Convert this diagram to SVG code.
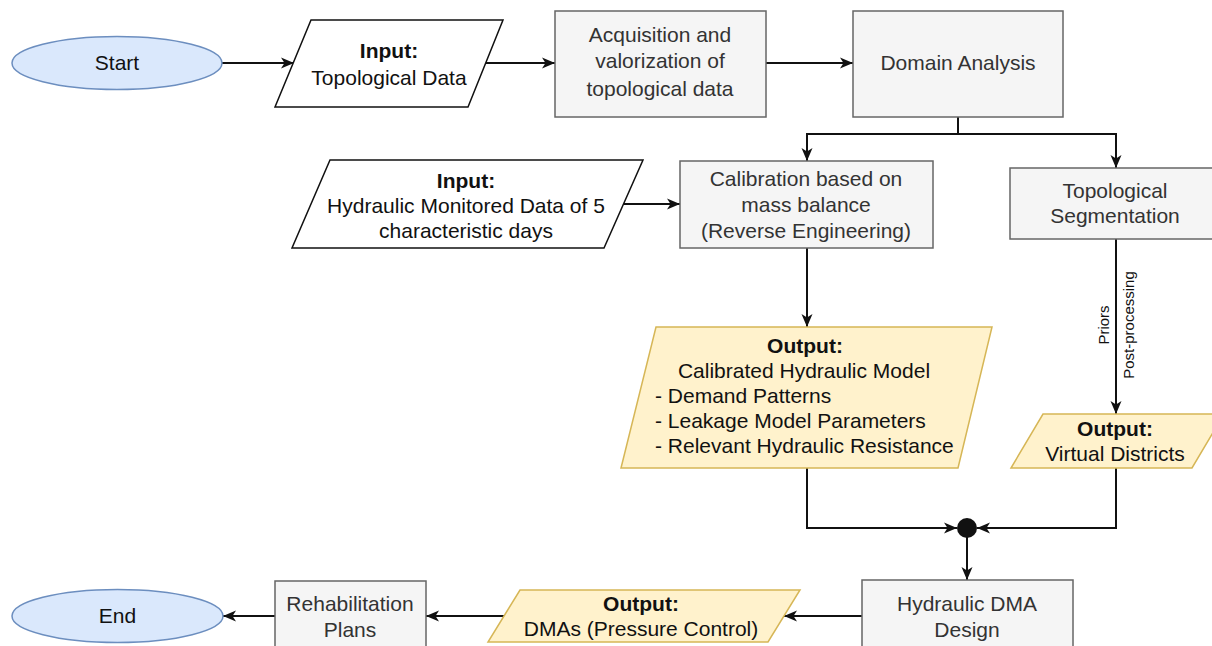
<svg xmlns="http://www.w3.org/2000/svg" width="1212" height="646" viewBox="0 0 1212 646">
<defs>
<marker id="arr" markerUnits="userSpaceOnUse" markerWidth="14" markerHeight="12" refX="13" refY="6" orient="auto">
<path d="M0,0.5 L13,6 L0,11.5 L3.5,6 Z" fill="#111"/>
</marker>
</defs>
<style>
text{font-family:"Liberation Sans",Arial,Helvetica,sans-serif;font-size:21px;text-anchor:middle}
.b{font-weight:bold;fill:#111}
.d{fill:#111}
.g{fill:#333}
.l{text-anchor:start}
.term{fill:#dae8fc;stroke:#6c8ebf;stroke-width:1.5}
.box{fill:#f5f5f5;stroke:#666;stroke-width:1.5}
.inp{fill:#fff;stroke:#111;stroke-width:1.5}
.out{fill:#fff2cc;stroke:#d6b656;stroke-width:1.5}
.c{fill:none;stroke:#111;stroke-width:2}
.lbl{font-size:15px;fill:#111}
</style>
<rect width="1212" height="646" fill="#fff"/>
<g id="connectors">
<path class="c" d="M222,63 H294" marker-end="url(#arr)"/>
<path class="c" d="M486,63 H555" marker-end="url(#arr)"/>
<path class="c" d="M766,63 H853" marker-end="url(#arr)"/>
<path class="c" d="M958,117 V134 H807 V161" marker-end="url(#arr)"/>
<path class="c" d="M958,134 H1116 V168" marker-end="url(#arr)"/>
<path class="c" d="M624,204 H680" marker-end="url(#arr)"/>
<path class="c" d="M807,248 V327" marker-end="url(#arr)"/>
<path class="c" d="M1116,239 V414" marker-end="url(#arr)"/>
<path class="c" d="M807,468 V528 H957" marker-end="url(#arr)"/>
<path class="c" d="M1116,468 V528 H977" marker-end="url(#arr)"/>
<path class="c" d="M967,528 V580" marker-end="url(#arr)"/>
<path class="c" d="M862,616 H784" marker-end="url(#arr)"/>
<path class="c" d="M504,616 H426" marker-end="url(#arr)"/>
<path class="c" d="M275,616 H223" marker-end="url(#arr)"/>
<circle cx="967" cy="528" r="10" fill="#111"/>
<text class="lbl" transform="translate(1109,325) rotate(-90)">Priors</text>
<text class="lbl" transform="translate(1134,325) rotate(-90)">Post-processing</text>
</g>
<g id="start">
<ellipse class="term" cx="117" cy="63" rx="105" ry="26.5"/>
<text class="d" x="117" y="70">Start</text>
</g>
<g id="input-topo">
<polygon class="inp" points="311,20 503,20 468,107 275,107"/>
<text class="b" x="389" y="58">Input:</text>
<text class="d" x="389" y="85">Topological Data</text>
</g>
<g id="acquisition">
<rect class="box" x="555" y="11" width="211" height="106"/>
<text class="g" x="660" y="42">Acquisition and</text>
<text class="g" x="660" y="68">valorization of</text>
<text class="g" x="660" y="96">topological data</text>
</g>
<g id="domain">
<rect class="box" x="853" y="11" width="210" height="106"/>
<text class="g" x="958" y="70">Domain Analysis</text>
</g>
<g id="input-hydraulic">
<polygon class="inp" points="330,160 643,160 604,248 292,248"/>
<text class="b" x="466" y="188">Input:</text>
<text class="d" x="466" y="213">Hydraulic Monitored Data of 5</text>
<text class="d" x="466" y="238">characteristic days</text>
</g>
<g id="calibration">
<rect class="box" x="680" y="161" width="253" height="87"/>
<text class="g" x="806" y="186">Calibration based on</text>
<text class="g" x="806" y="212">mass balance</text>
<text class="g" x="806" y="238">(Reverse Engineering)</text>
</g>
<g id="segmentation">
<rect class="box" x="1010" y="168" width="212" height="71"/>
<text class="g" x="1115" y="198">Topological</text>
<text class="g" x="1115" y="223">Segmentation</text>
</g>
<g id="output-model">
<polygon class="out" points="656,327 992,327 958,468 621,468"/>
<text class="b" x="805" y="353">Output:</text>
<text class="d" x="804" y="378">Calibrated Hydraulic Model</text>
<text class="d l" x="655" y="403">- Demand Patterns</text>
<text class="d l" x="655" y="428">- Leakage Model Parameters</text>
<text class="d l" x="655" y="453">- Relevant Hydraulic Resistance</text>
</g>
<g id="output-virtual">
<polygon class="out" points="1043,414 1224,414 1192,468 1011,468"/>
<text class="b" x="1115" y="436">Output:</text>
<text class="d" x="1115" y="461">Virtual Districts</text>
</g>
<g id="dma-design">
<rect class="box" x="862" y="580" width="211" height="80"/>
<text class="g" x="967" y="611">Hydraulic DMA</text>
<text class="g" x="967" y="637">Design</text>
</g>
<g id="output-dmas">
<polygon class="out" points="520,590 800,590 768,642 488,642"/>
<text class="b" x="641" y="611">Output:</text>
<text class="d" x="641" y="636">DMAs (Pressure Control)</text>
</g>
<g id="rehabilitation">
<rect class="box" x="275" y="581" width="151" height="80"/>
<text class="g" x="350" y="611">Rehabilitation</text>
<text class="g" x="350" y="637">Plans</text>
</g>
<g id="end">
<ellipse class="term" cx="117.5" cy="616" rx="105.5" ry="26.5"/>
<text class="d" x="117.5" y="623">End</text>
</g>
</svg>
